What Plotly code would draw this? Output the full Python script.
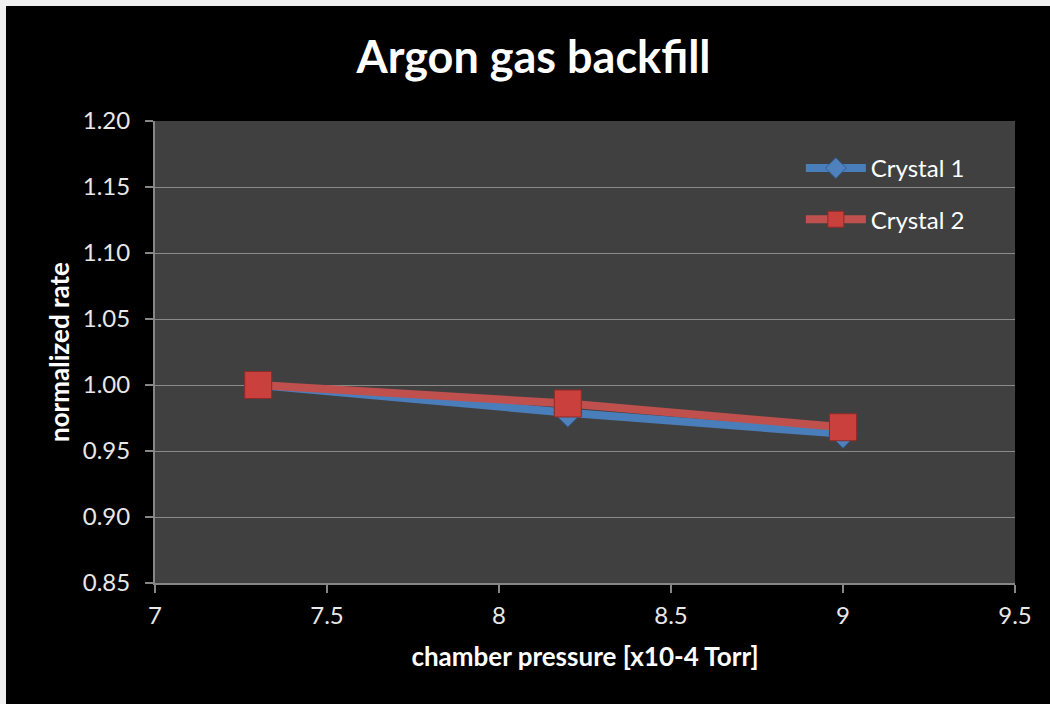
import plotly.graph_objects as go

pressure = [7.3, 8.2, 9.0]
crystal1 = [1.000, 0.979, 0.963]
crystal2 = [1.000, 0.986, 0.968]
series_names = ["Crystal 1", "Crystal 2"]
y_ticks = [0.85, 0.90, 0.95, 1.00, 1.05, 1.10, 1.15, 1.20]
x_ticks = [7, 7.5, 8, 8.5, 9, 9.5]

W, H = 1050, 704
L, R, T, B = 155, 35, 121, 121
FRAME = 6
FONT = "Lato"

fig = go.Figure()
fig.add_trace(go.Scatter(
    x=pressure, y=crystal1, name=series_names[0], mode="lines+markers",
    line=dict(color="#4A7EBB", width=8),
    marker=dict(symbol="diamond", size=22, color="#4F81BD",
                line=dict(color="#2F5C94", width=1)),
    legendgroup="a",
))
fig.add_trace(go.Scatter(
    x=pressure, y=crystal2, name=series_names[1], mode="lines+markers",
    line=dict(color="#C0504D", width=8),
    marker=dict(symbol="square", size=27, color="#C9403C",
                line=dict(color="#8E2A27", width=1)),
    legendgroup="b",
))

pw, ph = W - L - R, H - T - B
# light frame along the top and left edge of the picture
fig.add_shape(type="rect", xref="paper", yref="paper",
              x0=-L / pw, x1=(W - L) / pw, y0=1 + (T - FRAME) / ph, y1=1 + T / ph,
              fillcolor="#f0f0f0", line_width=0, layer="above")
fig.add_shape(type="rect", xref="paper", yref="paper",
              x0=-L / pw, x1=-(L - FRAME) / pw, y0=-B / ph, y1=1 + T / ph,
              fillcolor="#f0f0f0", line_width=0, layer="above")

fig.update_layout(
    width=W, height=H,
    margin=dict(l=L, r=R, t=T, b=B, autoexpand=False),
    paper_bgcolor="#000000",
    plot_bgcolor="#404040",
    font=dict(family=FONT, color="#ffffff"),
    title=dict(text="<b>Argon gas backfill</b>", x=533.5 / W, xanchor="center",
               y=1 - 57 / H, yanchor="middle", xref="container",
               font=dict(size=45, color="#ffffff", family=FONT)),
    xaxis=dict(range=[7, 9.5], tickvals=x_ticks, ticktext=[str(v) for v in x_ticks],
               showgrid=False, zeroline=False, showline=True, linecolor="#868686", linewidth=2,
               ticks="outside", ticklen=8, tickwidth=1.5, tickcolor="#868686",
               tickfont=dict(size=24, color="#e8e8e8"), ticklabelstandoff=2,
               title=dict(text="<b>chamber pressure [x10-4 Torr]</b>",
                          font=dict(size=26, color="#ffffff"), standoff=20)),
    yaxis=dict(range=[0.85, 1.20], tickvals=y_ticks, tickformat=".2f",
               showgrid=True, gridcolor="#8a8a8a", gridwidth=1.2, zeroline=False,
               showline=True, linecolor="#868686", linewidth=2,
               ticks="outside", ticklen=8, tickwidth=1.5, tickcolor="#868686",
               tickfont=dict(size=24, color="#e8e8e8"), ticklabelstandoff=10,
               title=dict(text="<b>normalized rate</b>",
                          font=dict(size=26, color="#ffffff"), standoff=6)),
    legend=dict(x=0.751, y=0.946, xanchor="left", yanchor="top",
                bgcolor="rgba(0,0,0,0)", font=dict(size=24, color="#ffffff", family=FONT),
                itemwidth=60, tracegroupgap=17, traceorder="grouped"),
)

fig.write_html(
    "out.html",
    config={"displayModeBar": False},
    post_script="document.body.style.margin='0';document.body.style.background='#000000';",
)
